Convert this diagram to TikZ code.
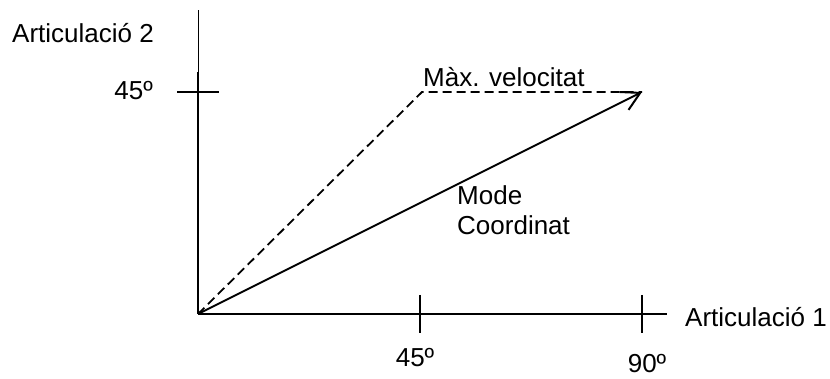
\documentclass[tikz,border=0pt]{standalone}
\usepackage{fontspec}
\setmainfont{Liberation Sans}
\usepackage{tikz}
\usetikzlibrary{arrows.meta, positioning}

\begin{document}
\begin{tikzpicture}[
    x=1pt, y=1pt,
    %% ── Line and label styles ─────────────────────────────────
    axis/.style={line width=2pt, draw=black},
    thinaxis/.style={line width=0.9pt, draw=black},
    tick/.style={line width=2pt, draw=black},
    maxpath/.style={line width=1.8pt, dash pattern=on 9pt off 5pt},
    arrow/.style={line width=2pt, -{Straight Barb[length=18pt, width=20pt, line width=2pt]}},
    lbl/.style={inner sep=0pt, font=\fontsize{26}{30}\selectfont}
]
\useasboundingbox (0,0) rectangle (830,379);

%% ── Axis points ────────────────────────────────────────────────
\coordinate (origin) at (198,65);
\coordinate (ymid)   at (198,307);
\coordinate (ytop)   at (198,369);
\coordinate (xend)   at (667,65);
\coordinate (q45)    at (422,287);
\coordinate (q90)    at (642,287);

%% ── Axes and ticks ─────────────────────────────────────────────
\draw [axis]     (origin) -- (ymid);
\draw [thinaxis] (ymid)   -- (ytop);
\draw [axis]     (origin) -- (xend);
\draw [tick] (177,287) coordinate (ytickl) -- (219,287) coordinate (ytickr);
\draw [tick] (420,84)  coordinate (xtaT)   -- (420,46)  coordinate (xtaB);
\draw [tick] (642,84)  coordinate (xtbT)   -- (642,46)  coordinate (xtbB);

%% ── Labels ─────────────────────────────────────────────────────
\node (art2)  [lbl, anchor=base west] at (12,336)  {Articulació 2};
\node (y45)   [lbl, anchor=base east] at (153,279) {45º};
\node (x45)   [lbl, anchor=base]      at (415,12)  {45º};
\node (x90)   [lbl, anchor=base]      at (647,6)   {90º};
\node (art1)  [lbl, anchor=base west] at (685,52)  {Articulació 1};
\node (maxv)  [lbl, anchor=base west] at (423,292) {Màx. velocitat};
\node (mode)  [lbl, anchor=base west, align=left] at (457,144) {Mode\\Coordinat};

%% ── Paths ──────────────────────────────────────────────────────
\draw [maxpath] (origin) -- (q45) -- (q90);
\draw [arrow]   (origin) -- (q90);

\end{tikzpicture}
\end{document}
